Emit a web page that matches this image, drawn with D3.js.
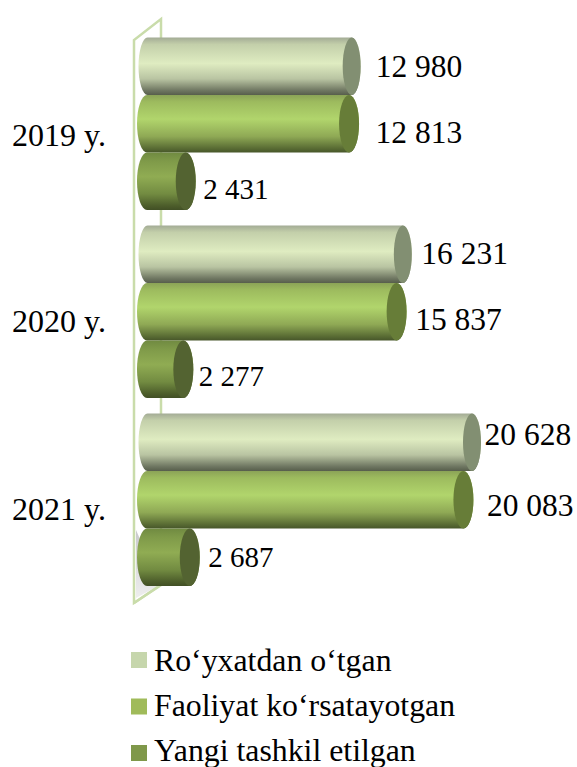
<!DOCTYPE html>
<html><head><meta charset="utf-8">
<script src="https://cdnjs.cloudflare.com/ajax/libs/d3/7.8.5/d3.min.js"></script>
<style>html,body{margin:0;padding:0;background:#fff}svg{display:block}text{font-family:"Liberation Serif",serif;fill:#000}</style>
</head><body><svg id="c" width="577" height="767"></svg>
<script>
const years = ["2019 y.", "2020 y.", "2021 y."];
const seriesNames = ["Ro\u2018yxatdan o\u2018tgan", "Faoliyat ko\u2018rsatayotgan", "Yangi tashkil etilgan"];
const registered = [12980, 16231, 20628];
const active = [12813, 15837, 20083];
const newlyFounded = [2431, 2277, 2687];
const seriesValues = [registered, active, newlyFounded];
const swatches = ["#c6d6ac", "#a0bb5a", "#7f984a"];
const caps = ["#828f72", "#677d38", "#536331"];
const ramps = [
  [[0,"#a3ab95"],[.12,"#c3cfaa"],[.45,"#dfecc1"],[.72,"#b9c4a2"],[.92,"#6f7762"],[1,"#575e4c"]],
  [[0,"#8ba357"],[.12,"#9dbb5e"],[.42,"#b1d56c"],[.72,"#8fa955"],[.92,"#5b6e35"],[1,"#47562a"]],
  [[0,"#708a41"],[.15,"#7f9a49"],[.42,"#90ac53"],[.72,"#728b41"],[.92,"#4d5e2b"],[1,"#414f25"]]
];
const labelGaps = [[14.5,9,3],[17,9,14],[8,6,9]];
const labelDy = [[0.5,-0.5,-7.5],[9,8,6],[8,7.5,0.5]];
const labelFont = [31.5,31.5,29];
const catDy = [1.5,-0.5,-0.5];
const fmt = v => d3.format(",")(v).replace(/,/g," ");

const svg = d3.select("#c");
const defs = svg.append("defs");
ramps.forEach((r,i)=>{
  const g = defs.append("linearGradient").attr("id","g"+i).attr("x1",0).attr("y1",0).attr("x2",0).attr("y2",1);
  r.forEach(s=>g.append("stop").attr("offset",s[0]).attr("stop-color",s[1]));
});
const floorG = defs.append("linearGradient").attr("id","fl").attr("x1",0).attr("y1",0).attr("x2",0).attr("y2",1);
floorG.append("stop").attr("offset",0).attr("stop-color","#c9c9cc");
floorG.append("stop").attr("offset",1).attr("stop-color","#eeeeee");

const y = d3.scaleBand().domain(years).range([37.5,586]).paddingInner(0.082).paddingOuter(0);
const inner = d3.scaleBand().domain(d3.range(3)).range([0,y.bandwidth()]);
const x = d3.scaleLinear().domain([0,20628]).range([147.5,472]);
const rxs = [9,10,10];

const wall = svg.append("g");
wall.append("path").attr("d","M134,603L134,40L161,19L161,585Z").attr("fill","none").attr("stroke","#c9dcaa").attr("stroke-width",2.5);
wall.append("path").attr("d","M136,598L136,530L160,585Z").attr("fill","url(#fl)");
wall.append("path").attr("d","M134,603L159,586").attr("stroke","#c9dcaa").attr("stroke-width",2.5);

years.forEach((yr,yi)=>{
  seriesValues.forEach((vals,si)=>{
    const top = y(yr)+inner(si), h = inner.bandwidth(), ry = h/2, v = vals[yi], rx = rxs[si];
    const x0 = x(0) - (si?0.5:0), x1 = x(v);
    const g = svg.append("g");
    g.append("path")
      .attr("d",`M${x0},${top}L${x1},${top}A${rx},${ry} 0 0 1 ${x1},${top+h}L${x0},${top+h}A${rx},${ry} 0 0 1 ${x0},${top}Z`)
      .attr("fill",`url(#g${si})`);
    g.append("ellipse").attr("cx",x1).attr("cy",top+ry).attr("rx",rx).attr("ry",ry).attr("fill",caps[si]);
    const fs = labelFont[si];
    svg.append("text").attr("x",x(v)+9.5+labelGaps[si][yi]).attr("y",top+ry+labelDy[si][yi]+fs*0.32)
      .attr("font-size",fs).text(fmt(v));
  });
  svg.append("text").attr("x",12).attr("y",y(yr)+y.bandwidth()/2+21+catDy[yi]).attr("font-size",32).text(yr);
});

const ly = d3.scalePoint().domain(d3.range(3)).range([660,753]);
const lt = d3.scalePoint().domain(d3.range(3)).range([670.5,761]);
seriesNames.forEach((n,i)=>{
  svg.append("rect").attr("x",131).attr("y",ly(i)-8).attr("width",16).attr("height",16).attr("fill",swatches[i]);
  svg.append("text").attr("x",154).attr("y",lt(i)).attr("font-size",31.8).text(n);
});
</script></body></html>
